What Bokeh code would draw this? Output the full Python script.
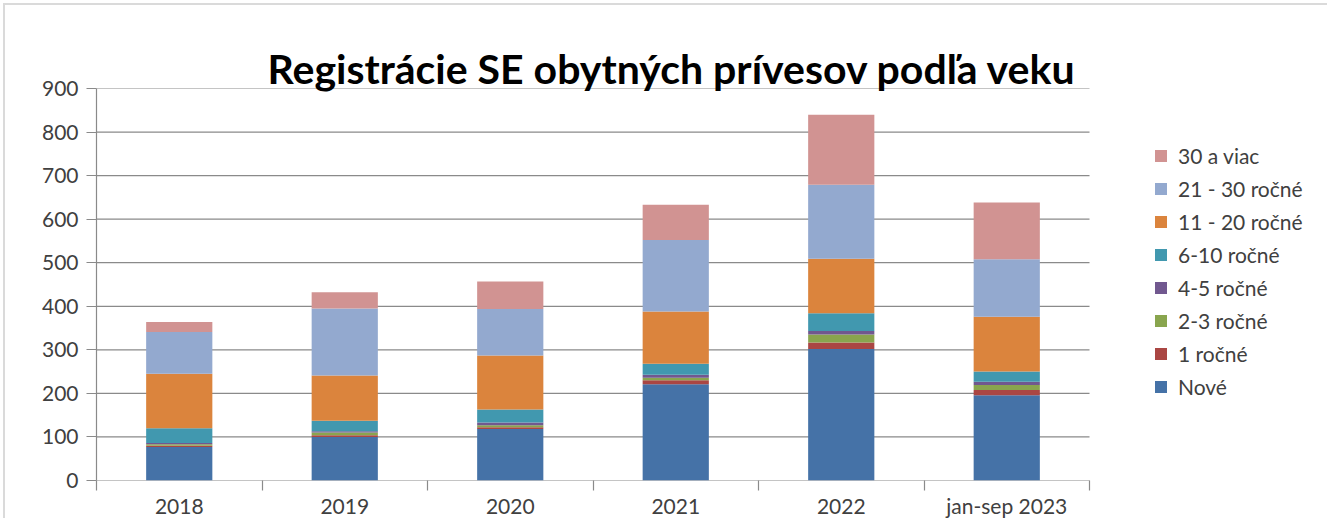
from bokeh.plotting import figure
from bokeh.models import FixedTicker, Legend, LegendItem, Range1d
from bokeh.embed import file_html
from bokeh.resources import INLINE

categories = ["2018", "2019", "2020", "2021", "2022", "jan-sep 2023"]
series_names = ["Nové", "1 ročné", "2-3 ročné", "4-5 ročné", "6-10 ročné",
                "11 - 20 ročné", "21 - 30 ročné", "30 a viac"]
nove = [77, 100, 118, 221, 302, 196]
r1 = [3, 4, 4, 9, 15, 12]
r23 = [3, 6, 5, 6, 18, 11]
r45 = [3, 3, 6, 7, 8, 8]
r610 = [34, 24, 30, 25, 41, 23]
r1120 = [125, 104, 124, 120, 125, 126]
r2130 = [96, 154, 107, 164, 170, 132]
r30 = [23, 37, 63, 81, 161, 130]
colors = ["#4572A7", "#AA4643", "#89A54E", "#71588F", "#4198AF",
          "#DB843D", "#93A9CF", "#D19392"]
y_ticks = [0, 100, 200, 300, 400, 500, 600, 700, 800, 900]

FONT = "Lato"
GRAY = "#8a8a8a"
TXT = "#404040"

# layout (pixels)
FIG_W = 1324
BORDER_L = 91
PLOT_PX = 993  # width of the category area
FRAME_PX = FIG_W - BORDER_L
n = len(categories)
x_end = n * FRAME_PX / PLOT_PX

keys = ["s%d" % i for i in range(len(series_names))]
xs = [i + 0.5 for i in range(n)]
data = {"x": xs}
for k, v in zip(keys, [nove, r1, r23, r45, r610, r1120, r2130, r30]):
    data[k] = v

p = figure(width=FIG_W, height=515, output_backend="svg", toolbar_location=None,
           x_range=Range1d(0, x_end), y_range=Range1d(0, 900),
           min_border_left=BORDER_L, min_border_right=0, min_border_top=83,
           min_border_bottom=38, margin=(3, 0, 0, 3),
           styles={"border-top": "2px solid #dadada", "border-left": "2px solid #dadada"})
p.outline_line_color = None
p.background_fill_color = "white"

# horizontal grid lines over the category area only
p.xgrid.grid_line_color = None
p.ygrid.grid_line_color = None
p.segment(x0=[0] * len(y_ticks), x1=[n] * len(y_ticks), y0=y_ticks, y1=y_ticks,
          line_color=GRAY, line_width=1.2)

renderers = p.vbar_stack(keys, x="x", width=0.4, source=data, color=colors,
                         line_color=None)

# title
p.title.text = "Registrácie SE obytných prívesov podľa veku"
p.title.text_font = FONT
p.title.text_font_size = "41px"
p.title.text_font_style = "bold"
p.title.text_color = "black"
p.title.align = "left"
p.title.offset = 171
p.title.standoff = -9

# y axis
p.yaxis.ticker = FixedTicker(ticks=y_ticks)
p.yaxis.axis_line_color = GRAY
p.yaxis.axis_line_width = 1.2
p.yaxis.major_tick_line_color = GRAY
p.yaxis.major_tick_line_width = 1.2
p.yaxis.major_tick_out = 10
p.yaxis.major_tick_in = 0
p.yaxis.minor_tick_line_color = None
p.yaxis.major_label_text_font = FONT
p.yaxis.major_label_text_font_size = "21px"
p.yaxis.major_label_text_color = TXT
p.yaxis.major_label_standoff = 8

# x axis
p.xaxis.ticker = FixedTicker(ticks=xs, minor_ticks=list(range(n + 1)))
p.xaxis.major_label_overrides = {x: c for x, c in zip(xs, categories)}
p.xaxis.axis_line_color = None
p.xaxis.major_tick_line_color = None
p.xaxis.minor_tick_line_color = GRAY
p.xaxis.minor_tick_line_width = 1.2
p.xaxis.minor_tick_out = 10
p.xaxis.minor_tick_in = 0
p.xaxis.major_label_text_font = FONT
p.xaxis.major_label_text_font_size = "21px"
p.xaxis.major_label_text_color = TXT
p.xaxis.major_label_standoff = 2

items = [LegendItem(label=nm, renderers=[r]) for nm, r in zip(series_names, renderers)]
legend = Legend(items=items[::-1], location=(PLOT_PX + 64, 77), margin=0, padding=0,
                border_line_color=None, background_fill_alpha=0,
                glyph_width=15, glyph_height=15, label_height=33, spacing=0,
                label_standoff=10, label_text_font=FONT,
                label_text_font_size="21px", label_text_color=TXT)
p.add_layout(legend, "center")

open("out.html", "w").write(file_html(p, INLINE))
